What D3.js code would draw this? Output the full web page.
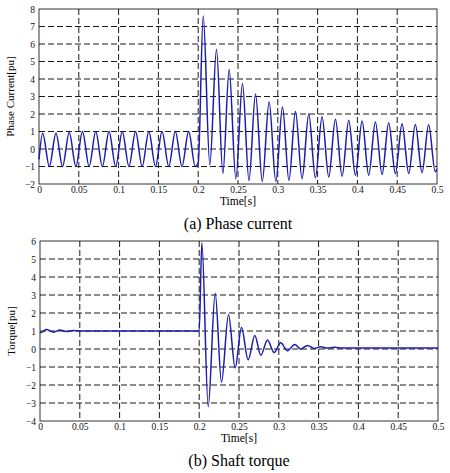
<!DOCTYPE html><html><head><meta charset="utf-8"><script src="https://cdn.jsdelivr.net/npm/d3@7"></script>
<style>body{margin:0;background:#fff}text{font-family:"Liberation Serif",serif}</style></head><body><svg id="c" width="450" height="473"></svg>
<script>
const xTicks=[0,0.05,0.1,0.15,0.2,0.25,0.3,0.35,0.4,0.45,0.5];
const currentTicks=[-2,-1,0,1,2,3,4,5,6,7,8];
const torqueTicks=[-4,-3,-2,-1,0,1,2,3,4,5,6];
const currentT=[0,0.0046,0.0130,0.0213,0.0296,0.0380,0.0463,0.0546,0.0630,0.0713,0.0796,0.0880,0.0963,0.1046,0.1130,0.1213,0.1296,0.1380,0.1463,0.1546,0.1630,0.1713,0.1796,0.1880,0.1963,0.2,0.2063,0.2146,0.2230,0.2310,0.2389,0.2473,0.2556,0.2638,0.2720,0.2805,0.2891,0.2975,0.3059,0.3140,0.3222,0.3305,0.3389,0.3472,0.3556,0.3640,0.3724,0.3808,0.3891,0.3975,0.4059,0.4142,0.4226,0.4310,0.4393,0.4477,0.4561,0.4645,0.4728,0.4812,0.4895,0.4978,0.5];
const currentV=[-0.6,0.9,-1,0.9,-1,0.95,-1,1,-1,1,-1,1,-1,1,-1,1,-1,1,-1,1,-1,1,-1,1,-1,-0.8,7.6,-0.9,5.7,-1.4,4.55,-1.7,3.75,-1.8,3.15,-1.85,2.7,-1.85,2.4,-1.8,2.15,-1.7,2.0,-1.65,1.85,-1.6,1.7,-1.55,1.65,-1.5,1.6,-1.5,1.55,-1.45,1.5,-1.4,1.45,-1.4,1.4,-1.35,1.38,-1.3,-1.15];
const torqueT=[0,0.003,0.008,0.017,0.025,0.033,0.042,0.05,0.1,0.15,0.2,0.2033,0.2113,0.2201,0.228,0.2368,0.2452,0.2531,0.2615,0.2699,0.2774,0.2858,0.2941,0.3025,0.3109,0.32,0.3276,0.336,0.3444,0.3527,0.361,0.37,0.38,0.4,0.45,0.5];
const torqueV=[0.9,0.95,1.08,0.93,1.05,0.97,1.03,1.0,1.0,1.0,1.0,5.9,-3.2,3.1,-1.85,1.9,-1.05,1.2,-0.6,0.75,-0.35,0.5,-0.2,0.35,-0.1,0.25,0,0.2,0.03,0.12,0.05,0.1,0.05,0.06,0.05,0.05];
const svg=d3.select("#c");
function panel(o){
 const x=d3.scaleLinear().domain([0,0.5]).range([o.l,o.r]);
 const y=d3.scaleLinear().domain(o.dom).range([o.b,o.t]);
 const g=svg.append("g");
 g.append("g").selectAll("line").data(xTicks.slice(1,-1)).join("line").attr("x1",d=>x(d)).attr("x2",d=>x(d)).attr("y1",o.t).attr("y2",o.b).attr("stroke","#000").attr("stroke-dasharray","6,3").attr("stroke-width",0.9);
 g.append("g").selectAll("line").data(o.ticks.slice(1,-1)).join("line").attr("y1",d=>y(d)).attr("y2",d=>y(d)).attr("x1",o.l).attr("x2",o.r).attr("stroke","#000").attr("stroke-dasharray","6,3").attr("stroke-width",0.9);
 g.append("rect").attr("x",o.l).attr("y",o.t).attr("width",o.r-o.l).attr("height",o.b-o.t).attr("fill","none").attr("stroke","#000").attr("stroke-width",0.8);
 const ax=g.append("g").attr("transform",`translate(0,${o.b})`).call(d3.axisBottom(x).tickValues(xTicks).tickFormat(d=>d).tickSize(0).tickPadding(2));
 const ay=g.append("g").attr("transform",`translate(${o.l},0)`).call(d3.axisLeft(y).tickValues(o.ticks).tickSize(0).tickPadding(4));
 [ax,ay].forEach(a=>{a.select(".domain").remove();a.selectAll("text").attr("font-size",9.5).attr("font-family","Liberation Serif").attr("fill","#111");});
 const pts=o.T.map((t,i)=>[t,o.V[i]]);
 g.append("path").datum(pts).attr("fill","none").attr("stroke","#1c1cb0").attr("stroke-width",1.5)
  .attr("d",d3.line().x(d=>x(d[0])).y(d=>y(d[1])).curve(d3.curveMonotoneX));
 g.append("text").attr("x",(o.l+o.r)/2).attr("y",o.b+21).attr("text-anchor","middle").attr("font-size",11.5).text("Time[s]");
 g.append("text").attr("transform",`translate(${o.l-25},${(o.t+o.b)/2}) rotate(-90)`).attr("text-anchor","middle").attr("font-size",11).text(o.ylab);
 g.append("text").attr("x",(o.l+o.r)/2).attr("y",o.b+45).attr("text-anchor","middle").attr("font-size",16).text(o.cap);
}
panel({l:39,r:437,t:9,b:184,dom:[-2,8],ticks:currentTicks,T:currentT,V:currentV,ylab:"Phase Current[pu]",cap:"(a)  Phase  current"});
panel({l:40,r:438,t:241,b:421,dom:[-4,6],ticks:torqueTicks,T:torqueT,V:torqueV,ylab:"Torque[pu]",cap:"(b)  Shaft  torque"});
</script></body></html>
